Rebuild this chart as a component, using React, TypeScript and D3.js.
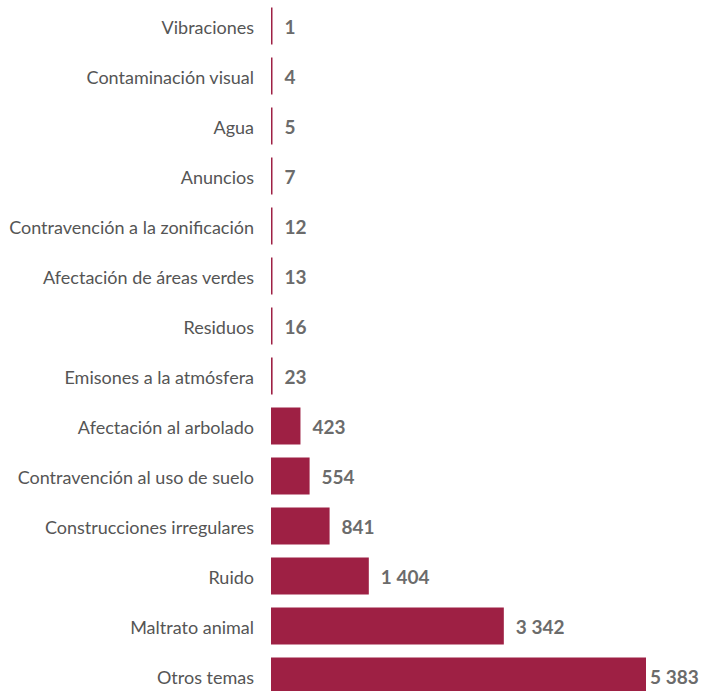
import React, { useEffect, useRef } from 'react';
import { select, scaleBand, scaleLinear, formatLocale } from 'd3';

const categories = [
  'Vibraciones',
  'Contaminación visual',
  'Agua',
  'Anuncios',
  'Contravención a la zonificación',
  'Afectación de áreas verdes',
  'Residuos',
  'Emisones a la atmósfera',
  'Afectación al arbolado',
  'Contravención al uso de suelo',
  'Construcciones irregulares',
  'Ruido',
  'Maltrato animal',
  'Otros temas',
];

const values = [1, 4, 5, 7, 12, 13, 16, 23, 423, 554, 841, 1404, 3342, 5383];

const W = 701;
const H = 691;

const App: React.FC = () => {
  const svgRef = useRef<SVGSVGElement>(null);

  useEffect(() => {
    if (!svgRef.current) return;
    const svg = select(svgRef.current).html('');

    const fmt = formatLocale({
      decimal: '.',
      thousands: ' ',
      grouping: [3],
      currency: ['', ''],
    }).format(',');

    // bars start at x=271, rows step 50px
    const left = 271;
    const x = scaleLinear().domain([0, 5383]).range([0, 375]);
    const y = scaleBand<string>()
      .domain(categories)
      .range([1, 1 + 50 * categories.length])
      .paddingInner(0.26)
      .paddingOuter(0.13);

    const data = categories.map((c, i) => ({ cat: c, value: values[i] }));

    const g = svg.append('g');

    g.selectAll('rect')
      .data(data)
      .enter()
      .append('rect')
      .attr('x', left)
      .attr('y', d => y(d.cat)!)
      .attr('width', d => Math.max(1.5, x(d.value)))
      .attr('height', y.bandwidth())
      .attr('fill', '#9E2044');

    g.selectAll('text.cat')
      .data(data)
      .enter()
      .append('text')
      .attr('class', 'cat')
      .attr('x', 254)
      .attr('y', d => y(d.cat)! + y.bandwidth() / 2 + 2)
      .attr('dy', '0.35em')
      .attr('text-anchor', 'end')
      .attr('fill', '#555')
      .style('font-family', 'Lato, sans-serif')
      .style('font-size', '18px')
      .text(d => d.cat);

    g.selectAll('text.val')
      .data(data)
      .enter()
      .append('text')
      .attr('class', 'val')
      .attr('x', d => Math.min(left + Math.max(1.5, x(d.value)) + 12, W - 51))
      .attr('y', d => y(d.cat)! + y.bandwidth() / 2 + 1)
      .attr('dy', '0.35em')
      .attr('fill', '#6b6b6b')
      .style('font-family', 'Lato, sans-serif')
      .style('font-size', '19px')
      .style('font-weight', 'bold')
      .text(d => fmt(d.value));
  }, []);

  return (
    <div style={{ position: 'absolute', top: 0, left: 0, width: W, height: H, background: '#fff' }}>
      <svg ref={svgRef} width={W} height={H}></svg>
    </div>
  );
};

export default App;
